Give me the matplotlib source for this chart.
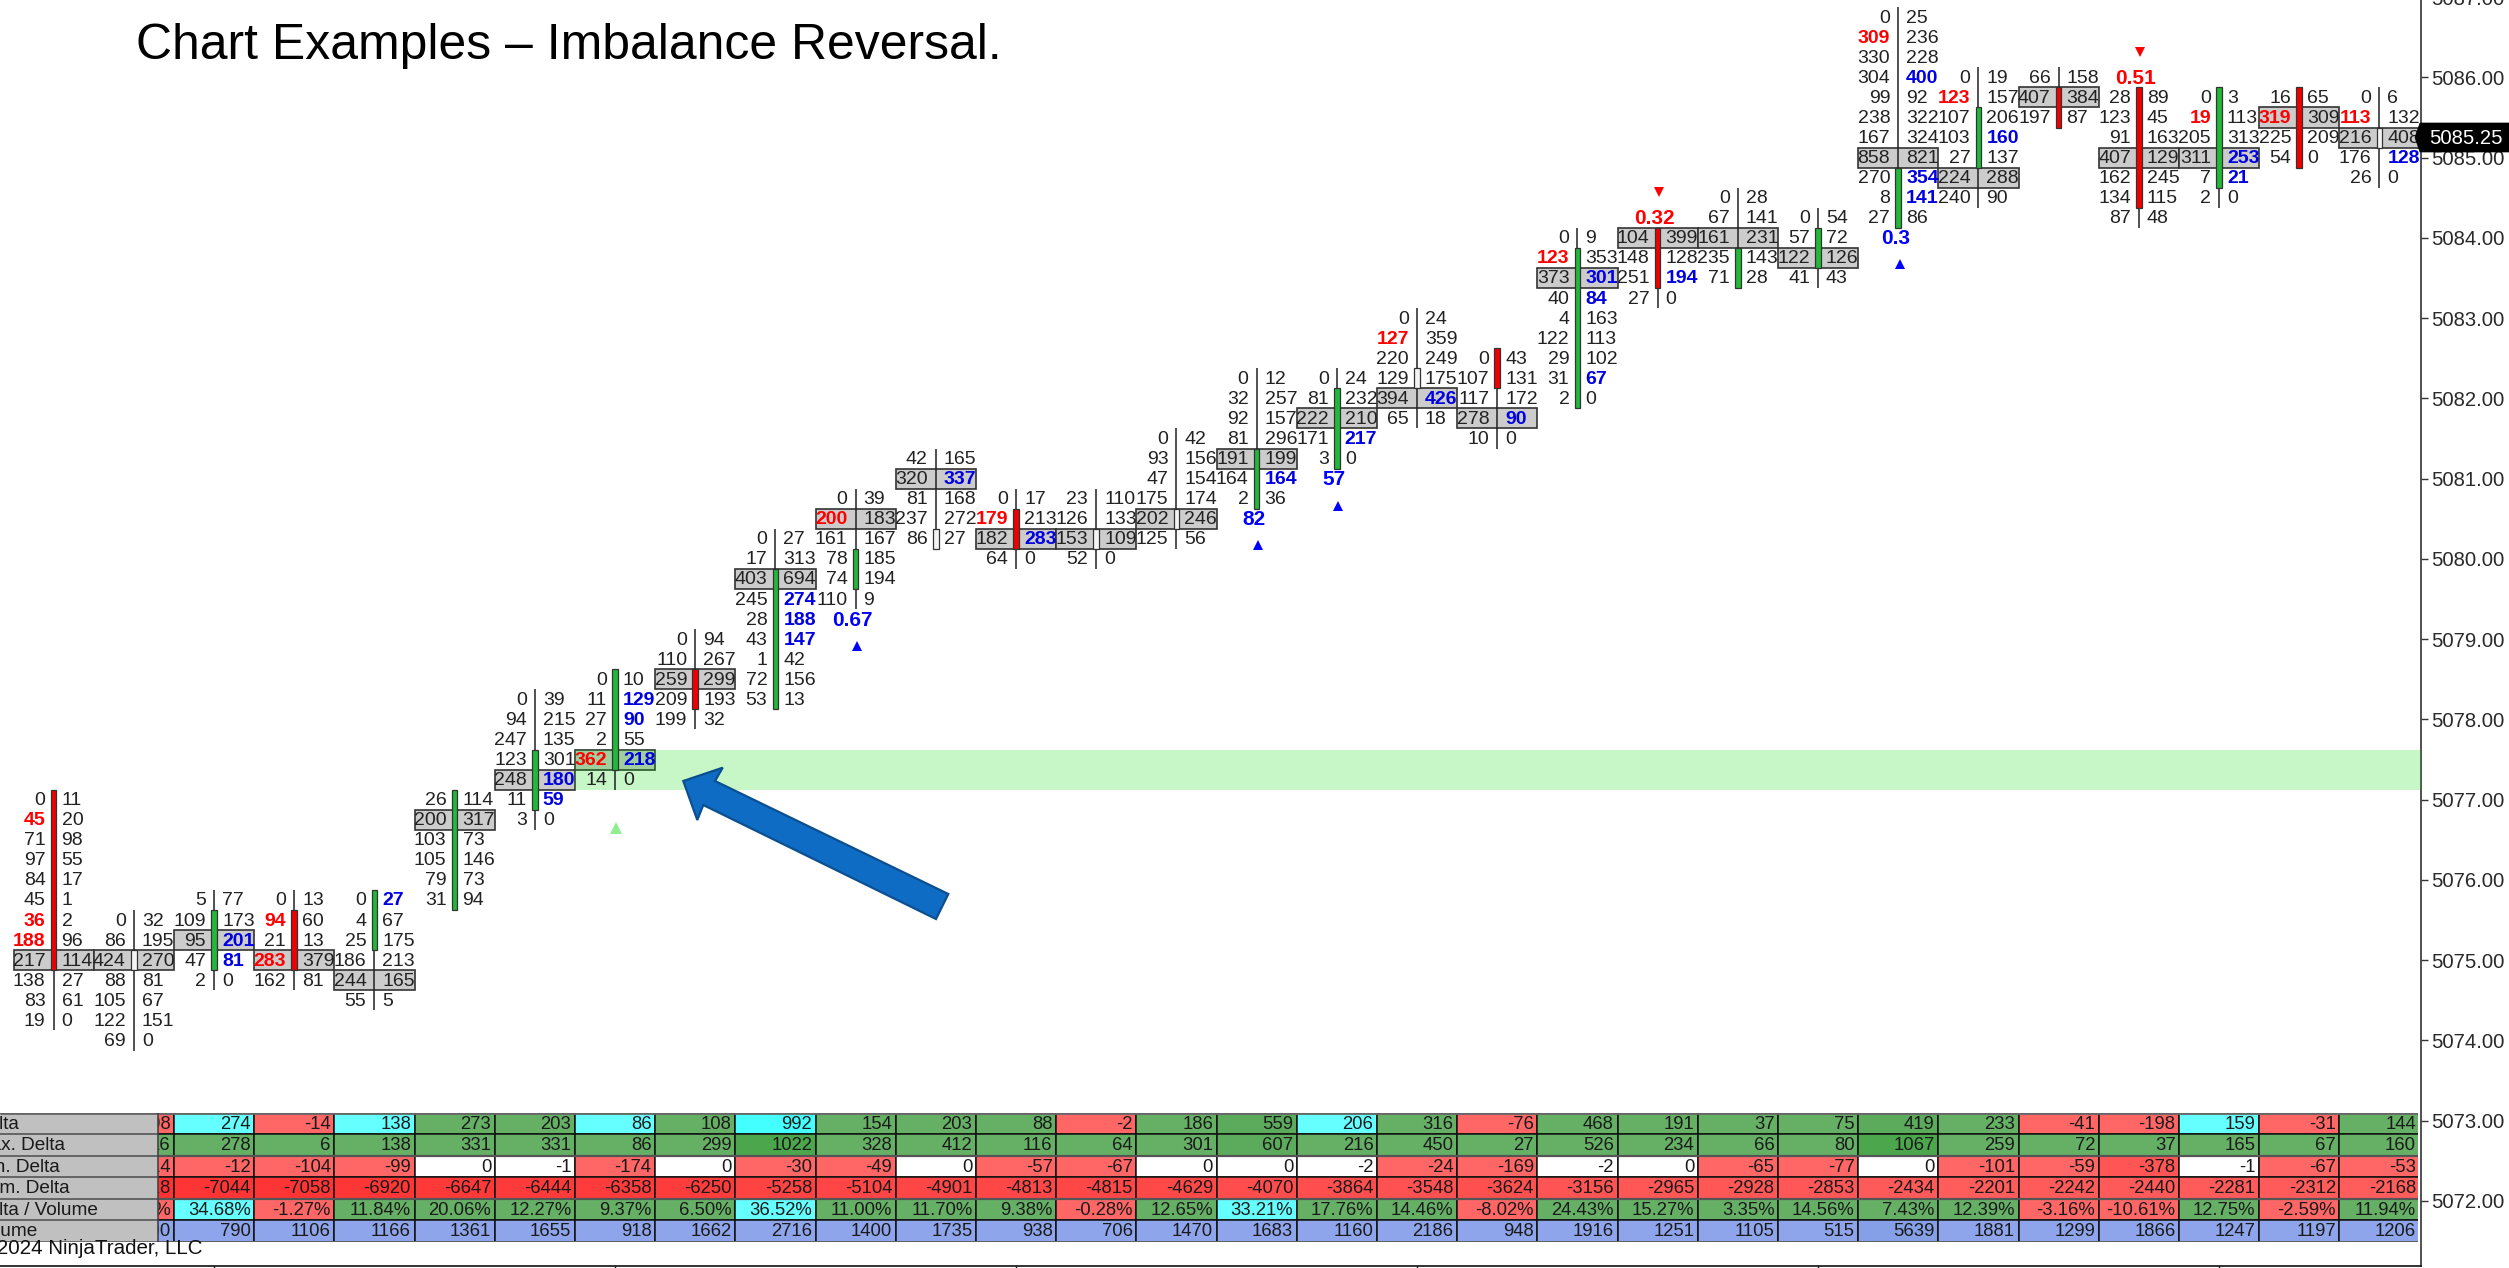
import numpy as np
import matplotlib
matplotlib.use("Agg")
import matplotlib.pyplot as plt
from matplotlib.patches import Polygon
from matplotlib.transforms import IdentityTransform

plt.rcParams['font.family'] = ['Liberation Sans', 'DejaVu Sans']

W, H = 2509, 1268
AX_R = 2420.5
BAR0 = 53.6
STEP = 80.2
Y5072 = 1201.0
PPP = 80.26
AX_B = 1266.0
AX_T = -20.0

tops = [5077.0, 5075.5, 5075.75, 5075.75, 5075.75, 5077.0, 5078.25, 5078.5, 5079.0, 5080.25,
        5080.75, 5081.25, 5080.75, 5080.75, 5081.5, 5082.25, 5082.25, 5083.0, 5082.5, 5084.0,
        5084.0, 5084.5, 5084.25, 5086.75, 5086.0, 5086.0, 5085.75, 5085.75, 5085.75, 5085.75]
bids = [
    [0, 45, 71, 97, 84, 45, 36, 188, 217, 138, 83, 19],
    [0, 86, 424, 88, 105, 122, 69],
    [5, 109, 95, 47, 2],
    [0, 94, 21, 283, 162],
    [0, 4, 25, 186, 244, 55],
    [26, 200, 103, 105, 79, 31],
    [0, 94, 247, 123, 248, 11, 3],
    [0, 11, 27, 2, 362, 14],
    [0, 110, 259, 209, 199],
    [0, 17, 403, 245, 28, 43, 1, 72, 53],
    [0, 200, 161, 78, 74, 110],
    [42, 320, 81, 237, 86],
    [0, 179, 182, 64],
    [23, 126, 153, 52],
    [0, 93, 47, 175, 202, 125],
    [0, 32, 92, 81, 191, 164, 2],
    [0, 81, 222, 171, 3],
    [0, 127, 220, 129, 394, 65],
    [0, 107, 117, 278, 10],
    [0, 123, 373, 40, 4, 122, 29, 31, 2],
    [104, 148, 251, 27],
    [0, 67, 161, 235, 71],
    [0, 57, 122, 41],
    [0, 309, 330, 304, 99, 238, 167, 858, 270, 8, 27],
    [0, 123, 107, 103, 27, 224, 240],
    [66, 407, 197],
    [28, 123, 91, 407, 162, 134, 87],
    [0, 19, 205, 311, 7, 2],
    [16, 319, 225, 54],
    [0, 113, 216, 176, 26],
]
asks = [
    [11, 20, 98, 55, 17, 1, 2, 96, 114, 27, 61, 0],
    [32, 195, 270, 81, 67, 151, 0],
    [77, 173, 201, 81, 0],
    [13, 60, 13, 379, 81],
    [27, 67, 175, 213, 165, 5],
    [114, 317, 73, 146, 73, 94],
    [39, 215, 135, 301, 180, 59, 0],
    [10, 129, 90, 55, 218, 0],
    [94, 267, 299, 193, 32],
    [27, 313, 694, 274, 188, 147, 42, 156, 13],
    [39, 183, 167, 185, 194, 9],
    [165, 337, 168, 272, 27],
    [17, 213, 283, 0],
    [110, 133, 109, 0],
    [42, 156, 154, 174, 246, 56],
    [12, 257, 157, 296, 199, 164, 36],
    [24, 232, 210, 217, 0],
    [24, 359, 249, 175, 426, 18],
    [43, 131, 172, 90, 0],
    [9, 353, 301, 84, 163, 113, 102, 67, 0],
    [399, 128, 194, 0],
    [28, 141, 231, 143, 28],
    [54, 72, 126, 43],
    [25, 236, 228, 400, 92, 322, 324, 821, 354, 141, 86],
    [19, 157, 206, 160, 137, 288, 90],
    [158, 384, 87],
    [89, 45, 163, 129, 245, 115, 48],
    [3, 113, 313, 253, 21, 0],
    [65, 309, 209, 0],
    [6, 132, 408, 128, 0],
]
red_bids = {0: [45, 36, 188], 3: [94, 283], 7: [362], 10: [200], 12: [179], 17: [127], 19: [123],
            23: [309], 24: [123], 27: [19], 28: [319], 29: [113]}
blue_asks = {2: [201, 81], 4: [27], 6: [180, 59], 7: [129, 90, 218], 9: [274, 188, 147], 11: [337],
             12: [283], 15: [164], 16: [217], 17: [426], 18: [90], 19: [301, 84, 67], 20: [194],
             23: [400, 354, 141], 24: [160], 27: [253, 21], 29: [128]}

body_hi = [5077.0, 5075.0, 5075.5, 5075.5, 5075.75, 5077.0, 5077.5, 5078.5, 5078.5, 5079.75,
           5080.0, 5080.25, 5080.5, 5080.25, 5080.5, 5081.25, 5082.0, 5082.25, 5082.5, 5083.75,
           5084.0, 5083.75, 5084.0, 5084.75, 5085.5, 5085.75, 5085.75, 5085.75, 5085.75, 5085.25]
body_lo = [5075.0, 5075.0, 5075.0, 5075.0, 5075.25, 5075.75, 5077.0, 5077.5, 5078.25, 5078.25,
           5079.75, 5080.25, 5080.25, 5080.25, 5080.5, 5080.75, 5081.25, 5082.25, 5082.25, 5082.0,
           5083.5, 5083.5, 5083.75, 5084.25, 5085.0, 5085.5, 5084.5, 5084.75, 5085.0, 5085.25]
body_kind = ['r', 'h', 'g', 'r', 'g', 'g', 'g', 'g', 'r', 'g',
             'g', 'h', 'r', 'h', 'h', 'g', 'g', 'h', 'r', 'g',
             'r', 'g', 'g', 'g', 'g', 'r', 'r', 'g', 'r', 'h']

signal_bars = [10, 15, 16, 23, 20, 26]
signal_text = ['0.67', '82', '57', '0.3', '0.32', '0.51']
signal_price = [5079.25, 5080.5, 5081.0, 5084.0, 5084.25, 5086.0]
signal_mark = [5078.915, 5080.17, 5080.66, 5083.67, 5084.57, 5086.32]
entry_bar = 7
entry_mark = 5076.65
band_bar = 7
band_hi = 5077.625
band_lo = 5077.125

row_names = ['Delta', 'Max. Delta', 'Min. Delta', 'Cum. Delta', 'Delta / Volume', 'Volume']
tbl_bars = list(range(1, 30))
delta = [-98, 274, -14, 138, 273, 203, 86, 108, 992, 154, 203, 88, -2, 186, 559, 206, 316, -76, 468,
         191, 37, 75, 419, 233, -41, -198, 159, -31, 144]
max_delta = [16, 278, 6, 138, 331, 331, 86, 299, 1022, 328, 412, 116, 64, 301, 607, 216, 450, 27, 526,
             234, 66, 80, 1067, 259, 72, 37, 165, 67, 160]
min_delta = [-114, -12, -104, -99, 0, -1, -174, 0, -30, -49, 0, -57, -67, 0, 0, -2, -24, -169, -2,
             0, -65, -77, 0, -101, -59, -378, -1, -67, -53]
cum_delta = [-7318, -7044, -7058, -6920, -6647, -6444, -6358, -6250, -5258, -5104, -4901, -4813, -4815,
             -4629, -4070, -3864, -3548, -3624, -3156, -2965, -2928, -2853, -2434, -2201, -2242, -2440,
             -2281, -2312, -2168]
delta_vol = ['-5.80%', '34.68%', '-1.27%', '11.84%', '20.06%', '12.27%', '9.37%', '6.50%', '36.52%', '11.00%',
             '11.70%', '9.38%', '-0.28%', '12.65%', '33.21%', '17.76%', '14.46%', '-8.02%', '24.43%',
             '15.27%', '3.35%', '14.56%', '7.43%', '12.39%', '-3.16%', '-10.61%', '12.75%', '-2.59%', '11.94%']
volume = [1690, 790, 1106, 1166, 1361, 1655, 918, 1662, 2716, 1400, 1735, 938, 706, 1470, 1683, 1160, 2186, 948,
          1916, 1251, 1105, 515, 5639, 1881, 1299, 1866, 1247, 1197, 1206]
delta_col = list('rcrcggcgCgggrgmcgrgggg' 'mgrrcrg')
max_col = list('gggggggg' 'G' 'ggggg' 'm' 'ggggggg' 'G' 'gggggg')
min_col = list('rrrrwwrwrrwrrwwwrrwwrrwrrDwrr')
dv_col = list('rcrgggggcgggrgcggrggggggrrgrg')

C = {'r': '#ff6666', 'c': '#66ffff', 'C': '#44ffff', 'g': '#66b066', 'G': '#4ca64c', 'm': '#5cab5c',
     'w': '#ffffff', 'D': '#ff5555'}


def px_x(i):
    return (i - BAR0) / STEP


xlim = (px_x(0), px_x(AX_R))
price = lambda y: 5072 + (Y5072 - y) / PPP

fig = plt.figure(figsize=(W / 100, H / 100), dpi=100, facecolor='white')
ax = fig.add_axes([0, 1 - AX_B / H, AX_R / W, (AX_B - AX_T) / H])
ax.set_xlim(*xlim)
ax.set_ylim(price(AX_B), price(AX_T))
for s in ('left', 'top'):
    ax.spines[s].set_visible(False)
ax.spines['right'].set_color('#333333')
ax.spines['right'].set_linewidth(1.2)
ax.spines['bottom'].set_color('#111111')
ax.spines['bottom'].set_linewidth(1.2)
ax.yaxis.tick_right()
ax.set_yticks(np.arange(5072, 5088))
ax.set_yticklabels([f'{v:.2f}' for v in np.arange(5072, 5088)], fontsize=14.6, color='#2a2a2a')
ax.tick_params(axis='y', length=5, width=1, color='#333333', pad=3)
ax.set_xticks(np.arange(2, 30, 5))
ax.set_xticklabels([])
ax.tick_params(axis='x', length=2, width=1, color='#111111')

TICK = 0.25
FS = 14.0

for i, (t, b, a) in enumerate(zip(tops, bids, asks)):
    total = np.array(b) + np.array(a)
    p = int(np.argmax(total))
    ax.bar(i, TICK, bottom=t - p * TICK - TICK / 2, width=1.0, color='#cccccc',
           edgecolor='#333333', linewidth=1.2, zorder=2)

ax.fill_between([band_bar - 0.5, xlim[1]], band_lo, band_hi, color=(0, 220 / 255, 0), alpha=0.22,
                linewidth=0, zorder=3)

for i, (t, b, a) in enumerate(zip(tops, bids, asks)):
    n = len(b)
    ax.vlines(i, t - (n - 1) * TICK - TICK / 2, t + TICK / 2, color='#222222', linewidth=1.1, zorder=4)
    hi, lo, kind = body_hi[i], body_lo[i], body_kind[i]
    fc = {'g': '#22b83a', 'r': '#f00000', 'h': '#f4f4f4'}[kind]
    ax.bar(i, hi - lo + TICK, bottom=lo - TICK / 2, width=5.5 / STEP, color=fc,
           edgecolor='#333333', linewidth=0.9, zorder=5)
    pending_red = list(red_bids.get(i, []))
    pending_blue = list(blue_asks.get(i, []))
    for k in range(n):
        y = t - k * TICK - 0.012
        rb = b[k] in pending_red
        ba = a[k] in pending_blue
        if rb:
            pending_red.remove(b[k])
        if ba:
            pending_blue.remove(a[k])
        ax.text(i - 8 / STEP, y, str(b[k]), ha='right', va='center', fontsize=FS,
                color='#ff0000' if rb else '#222222', fontweight='bold' if rb else 'normal',
                clip_on=True, zorder=6)
        ax.text(i + 8 / STEP, y, str(a[k]), ha='left', va='center', fontsize=FS,
                color='#0000e0' if ba else '#222222', fontweight='bold' if ba else 'normal',
                clip_on=True, zorder=6)

for b, s, p, m in zip(signal_bars, signal_text, signal_price, signal_mark):
    up = m < p
    col = '#0000ff' if up else '#ff0000'
    ax.text(b - 3 / STEP, p - 0.012, s, ha='center', va='center', fontsize=15, fontweight='bold',
            color=col, zorder=6)
    ax.plot([b + 1.5 / STEP], [m], marker='^' if up else 'v', ms=7.5, mew=0, color=col, zorder=6)
ax.plot([entry_bar + 1 / STEP], [entry_mark], marker='^', ms=8, mew=0, color='#90ee90', zorder=6)

arrow_px = [(683.3, 781), (722.7, 767.7), (715, 781), (948.3, 894), (936, 919), (703.3, 805), (697.3, 820)]
fig.add_artist(Polygon([(x, H - y) for x, y in arrow_px], closed=True, transform=IdentityTransform(),
                       facecolor='#0f6cc4', edgecolor='#0b4f90', linewidth=1.6, zorder=8))

T_TOP, T_BOT, T_R = 1113.0, 1241.7, 2418.0
tb = fig.add_axes([0, 1 - T_BOT / H, T_R / W, (T_BOT - T_TOP) / H], zorder=5)
tb.set_xlim(px_x(0), px_x(T_R))
tb.set_ylim(6, 0)
tb.axis('off')
cmin = min(cum_delta)
cmax = max(cum_delta)
cum_col = [(1.0, (51 + 41 * (v - cmin) / (cmax - cmin)) / 255, (51 + 41 * (v - cmin) / (cmax - cmin)) / 255)
           for v in cum_delta]
rows = [
    ([str(v) for v in delta], [C[k] for k in delta_col]),
    ([str(v) for v in max_delta], [C[k] for k in max_col]),
    ([str(v) for v in min_delta], [C[k] for k in min_col]),
    ([str(v) for v in cum_delta], cum_col),
    (delta_vol, [C[k] for k in dv_col]),
    ([str(v) for v in volume], ['#86a0e8' if v > 5000 else '#8fa5eb' for v in volume]),
]
for r, (labels, cols) in enumerate(rows):
    tb.bar(tbl_bars, 1, bottom=r, width=1.0, color=cols, edgecolor='#111111', linewidth=1.1, zorder=2)
    for x, s in zip(tbl_bars, labels):
        tb.text(x + 0.5 - 3.5 / STEP, r + 0.53, s, ha='right', va='center', fontsize=13.3,
                color='#1a1a1a', zorder=3, clip_on=True)
tb.bar(px_x(-20 + (157.7 + 20) / 2), 6, bottom=0, width=177.7 / STEP, color='#c0c0c0', edgecolor='none', zorder=4,
       clip_on=False)
for r, name in enumerate(row_names):
    tb.text(px_x(-25), r + 0.53, name, ha='left', va='center', fontsize=13.7, color='#1a1a1a', zorder=5, clip_on=False)
    tb.hlines(r, px_x(0), px_x(157.7), color='#555555', linewidth=1.2, zorder=5)
tb.hlines([0, 6], px_x(0), px_x(T_R), color='#666666', linewidth=2, zorder=5)
tb.hlines([2, 4], px_x(157.7), px_x(T_R), color='#555555', linewidth=1.6, zorder=5)
tb.vlines(px_x(157.7), 0, 6, color='#444444', linewidth=1.2, zorder=5)

fig.text(203 / W, 1 - 1248 / H, '\u00a9 2024 NinjaTrader, LLC', ha='right', va='center', fontsize=14.8,
         color='#111111', zorder=9)

flag_px = [(2415, 137.5), (2420, 123), (2509, 123), (2509, 152), (2420, 152)]
fig.add_artist(Polygon([(x, H - y) for x, y in flag_px], closed=True, transform=IdentityTransform(),
                       facecolor='black', edgecolor='black', linewidth=0.5, zorder=8))
fig.text(2429 / W, 1 - 138 / H, '5085.25', ha='left', va='center', fontsize=14.6, color='white', zorder=9)

fig.text(136 / W, 1 - 59 / H, 'Chart Examples \u2013 Imbalance Reversal.', ha='left', va='baseline', fontsize=35.9,
         color='black', zorder=9)

fig.savefig('out.png', dpi=100)
